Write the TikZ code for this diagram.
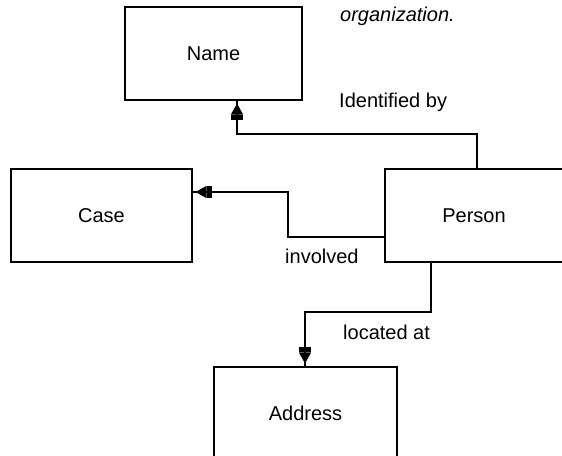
\documentclass[tikz,border=0pt]{standalone}
\usepackage{fontspec}
\setmainfont{Liberation Sans}
\usetikzlibrary{arrows.meta}
\begin{document}
\begin{tikzpicture}[x=1pt,y=-1pt,
  entity/.style={draw,line width=1.1pt,minimum height=93pt,inner sep=0pt,font=\fontsize{20}{24}\selectfont},
  conn/.style={line width=1.1pt},
  arr/.style={line width=1.1pt,-{Rectangle[length=5pt,width=12pt]Triangle[length=11pt,width=12pt]},shorten >=3pt},
  lbl/.style={anchor=base west,inner sep=0pt,font=\fontsize{20}{24}\selectfont}]
\useasboundingbox (0,0) rectangle (562,455);
\node[entity,minimum width=177pt] (name) at (213.5,53.5) {Name};
\node[entity,minimum width=181pt] (case) at (101.5,215.5) {Case};
\node[entity,minimum width=178pt] (person) at (474,215.5) {Person};
\node[entity,minimum width=183pt] (address) at (305.5,413.5) {Address};
% connector corners
\coordinate (c1) at (477,134);
\coordinate (c2) at (237,134);
\coordinate (c3) at (288,192);
\coordinate (c4) at (288,237);
\coordinate (c5) at (431,312);
\coordinate (c6) at (305,312);
% identified by
\draw[conn] (c1 |- person.north) -- (c1) -- (c2) -- (c2 |- name.south);
\draw[arr] (c2) -- (c2 |- name.south);
% involved
\draw[conn] (person.west |- c4) -- (c4) -- (c3) -- (c3 -| case.east);
\draw[arr] (c3) -- (c3 -| case.east);
% located at
\draw[conn] (c5 |- person.south) -- (c5) -- (c6) -- (c6 |- address.north);
\draw[arr] (c6) -- (c6 |- address.north);
% labels
\node[lbl] (lid) at (339,107) {Identified by};
\node[lbl] (linv) at (285,263) {involved};
\node[lbl] (lloc) at (343,339) {located at};
\node[lbl,font=\fontsize{20}{24}\selectfont\itshape] (lorg) at (340,21) {organization.};
\end{tikzpicture}
\end{document}
